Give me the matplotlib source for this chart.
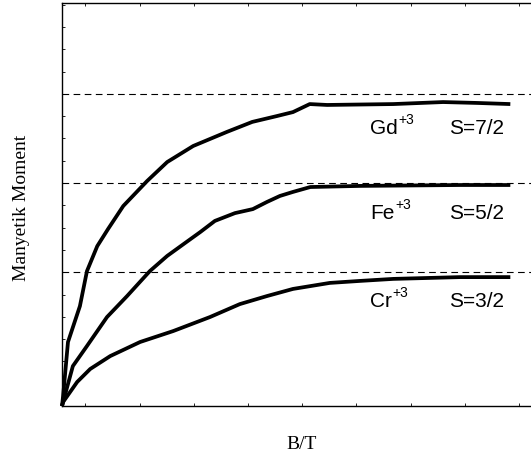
import matplotlib
matplotlib.use('Agg')
import matplotlib.pyplot as plt

# magnetisation curves (B in arbitrary units, moment in units of mu_B)
gd_b = [0, 0.02, 0.11, 0.33, 0.46, 0.65, 0.85, 1.13, 1.57, 1.94, 2.42, 3.04,
        3.51, 3.96, 4.26, 4.57, 4.89, 6.11, 7.03, 7.66, 8.27]
gd_m = [0, 0.45, 2.87, 4.48, 6.05, 7.17, 7.94, 8.97, 10.09, 10.94, 11.66, 12.29,
        12.74, 13.00, 13.18, 13.54, 13.50, 13.54, 13.63, 13.59, 13.54]

fe_b = [0, 0.02, 0.20, 0.46, 0.83, 1.20, 1.62, 1.94, 2.27, 2.55, 2.82, 3.19,
        3.52, 3.78, 4.02, 4.26, 4.58, 5.50, 7.34, 8.27]
fe_m = [0, 0.18, 1.79, 2.69, 3.99, 4.93, 6.05, 6.73, 7.31, 7.80, 8.30, 8.65,
        8.83, 9.15, 9.42, 9.60, 9.82, 9.87, 9.91, 9.91]

cr_b = [0, 0.02, 0.28, 0.52, 0.89, 1.44, 2.05, 2.73, 3.28, 3.78, 4.26, 4.94,
        5.50, 6.11, 7.34, 8.27]
cr_m = [0, 0.18, 1.08, 1.66, 2.24, 2.87, 3.36, 3.99, 4.57, 4.93, 5.25, 5.52,
        5.61, 5.70, 5.78, 5.78]

# saturation levels g*S
saturation = [6, 10, 14]
ions = ['Gd', 'Fe', 'Cr']
charge = '+3'
spins = ['S=7/2', 'S=5/2', 'S=3/2']
label_y = [12.24, 8.43, 4.48]

fig = plt.figure(figsize=(5.31, 4.60), dpi=100)
ax = fig.add_axes([0.1168, 0.1152, 0.9096, 0.876])
ax.set_xlim(0, 8.91)
ax.set_ylim(0, 18.07)

for level in saturation:
    ax.axhline(level, color='black', lw=0.8, ls=(0, (6, 4)))

for b, m in [(gd_b, gd_m), (fe_b, fe_m), (cr_b, cr_m)]:
    ax.plot(b, m, color='black', lw=2.7, solid_capstyle='butt',
            solid_joinstyle='round', clip_on=False)

for ion, spin, y in zip(ions, spins, label_y):
    t = ax.text(5.68, y, ion, fontsize=15, family='Liberation Sans',
                va='baseline', ha='left')
    ax.annotate(charge, xy=(1.0, 1.0), xycoords=t, xytext=(0.5, -1),
                textcoords='offset points', fontsize=10,
                family='Liberation Sans', ha='left', va='center')
    ax.text(7.14, y, spin, fontsize=15, family='Liberation Sans',
            va='baseline', ha='left')

ax.set_xticks([0.43 + k for k in range(9)])
ax.set_yticks(range(0, 19))
ax.tick_params(which='both', direction='in', length=2.5, width=0.6,
               top=True, right=False, labelbottom=False, labelleft=False)
for s in ax.spines.values():
    s.set_linewidth(1.0)

fig.text(22 / 531, 1 - 208 / 460, 'Manyetik Moment', rotation=90, fontsize=14,
         family='Liberation Serif', ha='center', va='center')
fig.text(302 / 531, 1 - 445 / 460, 'B/T', fontsize=14,
         family='Liberation Serif', ha='center', va='center')

fig.savefig('out.png', dpi=100)
